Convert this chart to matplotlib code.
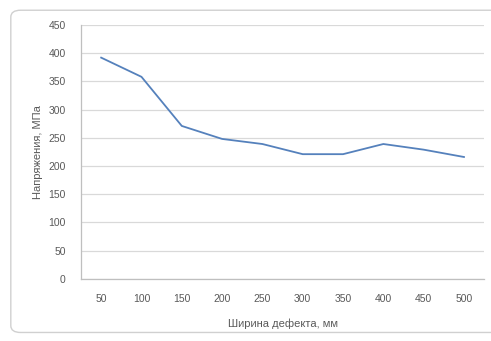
import numpy as np
import matplotlib.pyplot as plt
from matplotlib.patches import FancyBboxPatch

# Chart data
widths = [50, 100, 150, 200, 250, 300, 350, 400, 450, 500]
stress = [392, 358, 271, 248, 239, 221, 221, 239, 229, 216]
y_ticks = [0, 50, 100, 150, 200, 250, 300, 350, 400, 450]

plt.rcParams['font.family'] = ['Liberation Sans', 'DejaVu Sans']

fig = plt.figure(figsize=(4.91, 3.41), dpi=100)

# rounded chart border like Excel
border = FancyBboxPatch((0.022, 0.025), 1.1, 0.945,
                        boxstyle="round,pad=0,rounding_size=0.02",
                        transform=fig.transFigure, facecolor='none',
                        edgecolor='#D0D0D0', linewidth=1.0, zorder=-1)
fig.add_artist(border)

ax = fig.add_axes([0.165, 0.182, 0.821, 0.745])
ax.set_facecolor('none')

x = np.arange(len(widths))
ax.plot(x, stress, color='#5581BC', linewidth=1.3, zorder=3)

ax.set_xlim(-0.5, len(widths) - 0.5)
ax.set_ylim(0, 450)
ax.set_xticks(x)
ax.set_xticklabels([str(w) for w in widths])
ax.set_yticks(y_ticks)
ax.grid(axis='y', color='#D9D9D9', linewidth=0.9)
ax.set_axisbelow(True)

for side in ['top', 'right']:
    ax.spines[side].set_visible(False)
for side in ['left', 'bottom']:
    ax.spines[side].set_color('#BFBFBF')
    ax.spines[side].set_linewidth(0.9)

ax.tick_params(axis='both', length=0, labelsize=7.5, labelcolor='#595959')
ax.tick_params(axis='x', pad=11)
ax.tick_params(axis='y', pad=11)

ax.set_xlabel('Ширина дефекта, мм', fontsize=8, color='#595959', labelpad=10)
ax.set_ylabel('Напряжения, МПа', fontsize=8, color='#595959', labelpad=4)

fig.savefig('out.png', dpi=100)
